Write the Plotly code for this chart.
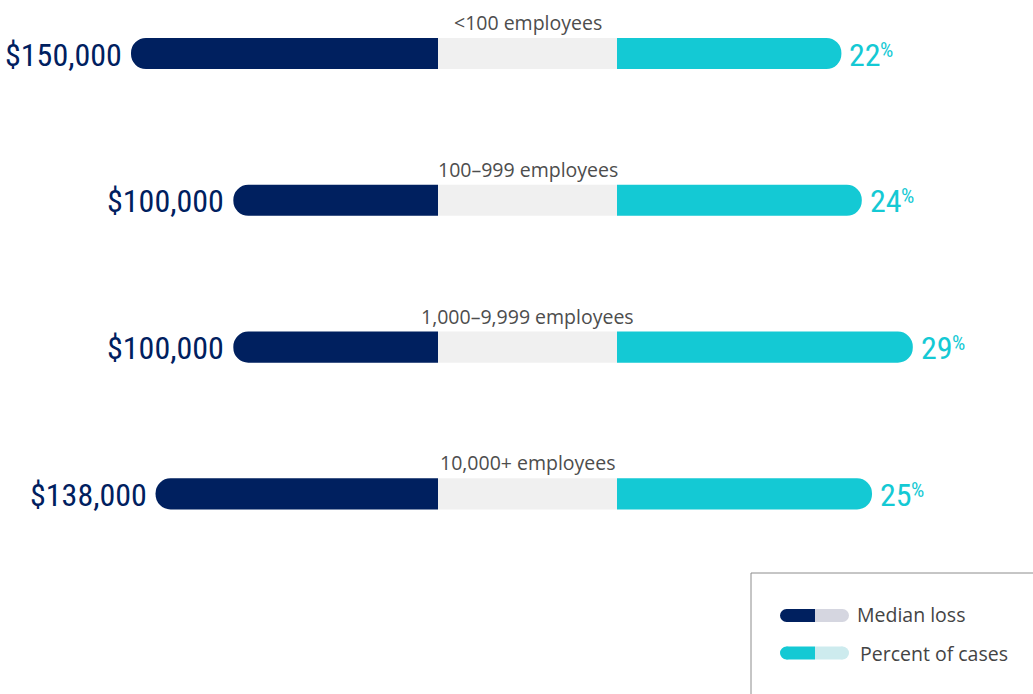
import plotly.graph_objects as go

# ---- data ----
categories = ["<100 employees", "100\u2013999 employees", "1,000\u20139,999 employees", "10,000+ employees"]
median_loss = [150000, 100000, 100000, 138000]
median_loss_labels = ["$150,000", "$100,000", "$100,000", "$138,000"]
percent_cases = [22, 24, 29, 25]

W, H = 1033, 694
NAVY = "#00205F"
CYAN = "#14C9D4"
MID = "#F0F0F0"
TEXT = "#4D4D4D"
NUMFONT = "Roboto Condensed, DejaVu Sans Condensed, Liberation Sans Narrow, Roboto"

n = len(categories)
ypos = list(range(n - 1, -1, -1))  # top row first

fig = go.Figure()

fig.add_trace(go.Bar(y=ypos, x=[1] * n, orientation="h", xaxis="x3", yaxis="y",
                     marker=dict(color=MID, line=dict(width=0)), width=0.212,
                     hoverinfo="skip", showlegend=False))
fig.add_trace(go.Bar(y=ypos, x=median_loss, orientation="h", xaxis="x", yaxis="y",
                     marker=dict(color=NAVY, cornerradius=15, line=dict(width=0)), width=0.212,
                     name="Median loss", showlegend=False))
fig.add_trace(go.Bar(y=ypos, x=percent_cases, orientation="h", xaxis="x2", yaxis="y",
                     marker=dict(color=CYAN, cornerradius=15, line=dict(width=0)), width=0.212,
                     name="Percent of cases", showlegend=False))

annotations = []
for i in range(n):
    annotations.append(dict(xref="x3", yref="y", x=0.5, y=ypos[i], text=categories[i],
                            showarrow=False, xanchor="center", yanchor="middle", yshift=31,
                            font=dict(family="Open Sans", size=19.5, color=TEXT)))
    annotations.append(dict(xref="x", yref="y", x=median_loss[i], y=ypos[i], text=median_loss_labels[i],
                            showarrow=False, xanchor="right", yanchor="middle", xshift=-7, yshift=-1,
                            font=dict(family=NUMFONT, size=32, color=NAVY)))
    annotations.append(dict(xref="x2", yref="y", x=percent_cases[i], y=ypos[i],
                            text=str(percent_cases[i]),
                            showarrow=False, xanchor="left", yanchor="middle", xshift=6, yshift=-1,
                            font=dict(family=NUMFONT, size=32, color=CYAN)))
    annotations.append(dict(xref="x2", yref="y", x=percent_cases[i], y=ypos[i],
                            text="%",
                            showarrow=False, xanchor="left", yanchor="middle", xshift=37, yshift=4,
                            font=dict(family=NUMFONT, size=21, color=CYAN)))

def px(x):
    return x / W

def py(y):
    return 1 - y / H

shapes = [dict(type="rect", xref="paper", yref="paper", x0=px(751), x1=px(1040), y0=py(700), y1=py(573),
               line=dict(color="#8C8C8C", width=1), fillcolor="rgba(0,0,0,0)")]

def pill(yc, left_color, right_color):
    r = 6.5
    x0, xm, x1 = 780, 815, 849
    out = []
    out.append(dict(type="circle", xref="paper", yref="paper", x0=px(x0), x1=px(x0 + 2 * r),
                    y0=py(yc + r), y1=py(yc - r), fillcolor=left_color, line=dict(width=0)))
    out.append(dict(type="rect", xref="paper", yref="paper", x0=px(x0 + r), x1=px(xm),
                    y0=py(yc + r), y1=py(yc - r), fillcolor=left_color, line=dict(width=0)))
    out.append(dict(type="circle", xref="paper", yref="paper", x0=px(x1 - 2 * r), x1=px(x1),
                    y0=py(yc + r), y1=py(yc - r), fillcolor=right_color, line=dict(width=0)))
    out.append(dict(type="rect", xref="paper", yref="paper", x0=px(xm), x1=px(x1 - r),
                    y0=py(yc + r), y1=py(yc - r), fillcolor=right_color, line=dict(width=0)))
    return out

shapes += pill(615.5, NAVY, "#D5D6E0")
shapes += pill(653, CYAN, "#CDEBEE")

annotations.append(dict(xref="paper", yref="paper", x=px(855), y=py(614), text="Median loss",
                        showarrow=False, xanchor="left", yanchor="middle",
                        font=dict(family="Open Sans", size=19.5, color="#444444")))
annotations.append(dict(xref="paper", yref="paper", x=px(858), y=py(653), text="Percent of cases",
                        showarrow=False, xanchor="left", yanchor="middle",
                        font=dict(family="Open Sans", size=19.5, color="#444444")))

px_per_dollar = 307 / 150000
px_per_pct = 10.2

fig.update_layout(
    width=W, height=H,
    margin=dict(l=0, r=0, t=0, b=0, autoexpand=False),
    paper_bgcolor="white", plot_bgcolor="white",
    barmode="overlay",
    xaxis=dict(domain=[0, 438 / W], range=[438 / px_per_dollar, 0], visible=False, fixedrange=True, anchor="y"),
    xaxis2=dict(domain=[617 / W, 1], range=[0, 416 / px_per_pct], visible=False, fixedrange=True, anchor="y"),
    xaxis3=dict(domain=[438 / W, 617 / W], range=[0, 1], visible=False, fixedrange=True, anchor="y"),
    yaxis=dict(range=[-200 / 146.67, 3 + 53.5 / 146.67], visible=False, fixedrange=True),
    annotations=annotations,
    shapes=shapes,
    showlegend=False,
)

fig.write_html("out.html", config={"displayModeBar": False},
               post_script="document.body.style.margin='0';document.body.style.overflow='hidden';")
